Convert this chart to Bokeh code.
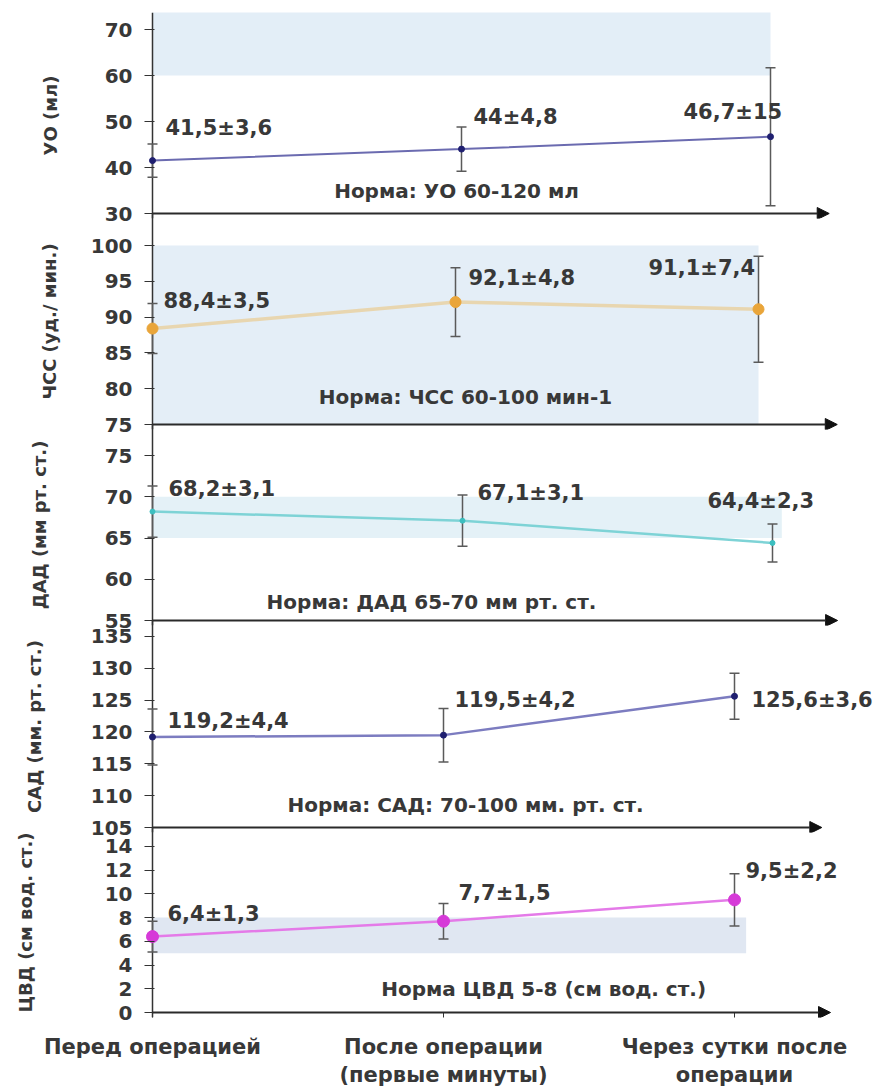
from bokeh.plotting import figure
from bokeh.layouts import column
from bokeh.models import (ColumnDataSource, Whisker, TeeHead, Arrow, NormalHead,
                          Label, FixedTicker, Range1d, Span)
from bokeh.embed import file_html
from bokeh.resources import INLINE

# ---------------- data ----------------
stages = ["Перед операцией", "После операции\n(первые минуты)", "Через сутки после\nоперации"]
stage_x = [0, 1, 2]

uo_mean = [41.5, 44, 46.7]
uo_sd = [3.6, 4.8, 15]
uo_norm = [60, 120]

hr_mean = [88.4, 92.1, 91.1]
hr_sd = [3.5, 4.8, 7.4]
hr_norm = [60, 100]

dad_mean = [68.2, 67.1, 64.4]
dad_sd = [3.1, 3.1, 2.3]
dad_norm = [65, 70]

sad_mean = [119.2, 119.5, 125.6]
sad_sd = [4.4, 4.2, 3.6]
sad_norm = [70, 100]

cvd_mean = [6.4, 7.7, 9.5]
cvd_sd = [1.3, 1.5, 2.2]
cvd_norm = [5, 8]

y_titles = ["УО (мл)", "ЧСС (уд./ мин.)", "ДАД (мм рт. ст.)", "САД (мм. рт. ст.)", "ЦВД (см вод. ст.)"]
norm_texts = ["Норма: УО 60-120 мл", "Норма: ЧСС 60-100 мин-1", "Норма: ДАД 65-70 мм рт. ст.",
              "Норма: САД: 70-100 мм. рт. ст.", "Норма ЦВД 5-8 (см вод. ст.)"]
y_ticks = [[30, 40, 50, 60, 70],
           [75, 80, 85, 90, 95, 100],
           [55, 60, 65, 70, 75],
           [105, 110, 115, 120, 125, 130, 135],
           [0, 2, 4, 6, 8, 10, 12, 14]]
y_base = [30, 75, 55, 105, 0]   # value at which each panel's horizontal axis sits

series = [(uo_mean, uo_sd, uo_norm), (hr_mean, hr_sd, hr_norm), (dad_mean, dad_sd, dad_norm),
          (sad_mean, sad_sd, sad_norm), (cvd_mean, cvd_sd, cvd_norm)]

# ---------------- styles / layout ----------------
FONT = "DejaVu Sans"
TXT = "#383838"
W = 881
LEFT = 144
AX_OFF = 8
OVERLAP = 14          # bottom room for the lowest tick label, overlapped by the next panel
EXT = 5               # frame extends a little below the horizontal axis so the arrow is whole
BOTTOM_LABELS = 80

# frame top pixel, horizontal-axis pixel, pixels per y unit, pixels per x unit
styles = [
    dict(T=12, B=213, ppy=4.6, ppu=309, arrow=2.19, band_r=2.0, band="#e3eef7",
         line="#6b6bb0", lw=2, mk="#1f1f70", ms=6, offs=[(13, 33), (12, 32), (-87, 25)],
         norm=(0.984, 34.8), standoff=41),
    dict(T=213, B=424, ppy=7.16, ppu=303, arrow=2.26, band_r=2.0, band="#e4eef7",
         line="#e8d6b0", lw=3.5, mk="#e9a53a", ms=11, offs=[(11, 28), (13, 24), (-110, 41)],
         norm=(1.033, 78.8), standoff=28),
    dict(T=424, B=620, ppy=8.25, ppu=310, arrow=2.21, band_r=2.03, band="#e4f1f7",
         line="#7ed3d6", lw=2.5, mk="#3cbfc0", ms=5, offs=[(16, 23), (15, 28), (-65, 42)],
         norm=(0.90, 57.2), standoff=52),
    dict(T=620, B=827, ppy=6.37, ppu=291, arrow=2.30, band_r=2.0, band="#e4eef7",
         line="#7c7cc0", lw=2.5, mk="#1f1f70", ms=6, offs=[(15, 16), (11, 35), (17, -4)],
         norm=(1.076, 108.5), standoff=43),
    dict(T=827, B=1012, ppy=11.86, ppu=291, arrow=2.33, band_r=2.04, band="#e0e7f2",
         line="#e47ae8", lw=2.5, mk="#d63ad8", ms=12, offs=[(15, 23), (15, 28), (11, 29)],
         norm=(1.344, 2.0), standoff=66),
]


def fmt(v):
    return f"{v:g}".replace(".", ",")


figs = []
for i, ((mean, sd, norm), st) in enumerate(zip(series, styles)):
    last = i == len(series) - 1
    ppu = st["ppu"]
    xs = -AX_OFF / ppu
    xe = xs + (W - LEFT) / ppu
    base = y_base[i]
    y0 = base - EXT / st["ppy"]
    y1 = base + (st["B"] - st["T"]) / st["ppy"]
    top = st["T"] if i == 0 else 0
    bottom = (BOTTOM_LABELS if last else OVERLAP) - EXT
    height = (st["B"] - st["T"]) + EXT + top + bottom
    p = figure(width=W, height=height, x_range=Range1d(xs, xe), y_range=Range1d(y0, y1),
               output_backend="svg", toolbar_location=None,
               x_axis_location="below" if last else None,
               min_border_left=LEFT, min_border_right=0,
               min_border_top=top, min_border_bottom=bottom,
               margin=(0, 0, 0, 0) if i == 0 else (-OVERLAP, 0, 0, 0))
    p.outline_line_color = None
    p.grid.visible = False
    p.background_fill_color = None
    p.border_fill_color = None

    # normal range band (drawn only above the panel's horizontal axis)
    p.quad(left=[0], right=[st["band_r"]], bottom=[max(norm[0], base)],
           top=[max(norm[1], base)], fill_color=st["band"], line_color=None, level="image")

    # vertical axis line at x = 0
    p.add_layout(Span(location=0, dimension="height", line_color="#333333", line_width=1.5,
                      level="underlay"))

    src = ColumnDataSource(dict(x=stage_x, m=mean,
                                lo=[a - b for a, b in zip(mean, sd)],
                                hi=[a + b for a, b in zip(mean, sd)]))
    p.add_layout(Whisker(source=src, base="x", upper="hi", lower="lo",
                         line_color="#5a5a5a", line_width=1.5, level="underlay",
                         upper_head=TeeHead(size=10, line_color="#5a5a5a", line_width=1.5),
                         lower_head=TeeHead(size=10, line_color="#5a5a5a", line_width=1.5)))
    p.line("x", "m", source=src, line_color=st["line"], line_width=st["lw"])
    p.scatter("x", "m", source=src, size=st["ms"], fill_color=st["mk"], line_color=st["mk"])

    for k in range(len(mean)):
        dx, dy = st["offs"][k]
        p.add_layout(Label(x=stage_x[k], y=mean[k], x_offset=dx, y_offset=dy,
                           text=fmt(mean[k]) + "±" + fmt(sd[k]),
                           text_font=FONT, text_font_size="21px", text_font_style="bold",
                           text_color=TXT, text_align="left", text_baseline="middle"))

    p.add_layout(Label(x=st["norm"][0], y=st["norm"][1], text=norm_texts[i],
                       text_font=FONT, text_font_size="20px", text_font_style="bold",
                       text_color=TXT, text_align="center", text_baseline="middle"))

    # horizontal axis arrow
    p.add_layout(Arrow(x_start=0, y_start=base, x_end=st["arrow"], y_end=base,
                       line_color="#2a2a2a", line_width=2,
                       end=NormalHead(size=12, fill_color="#111111", line_color="#111111")))

    # y axis (ticks and labels; the line itself is the span at x = 0)
    ax = p.yaxis[0]
    ax.ticker = FixedTicker(ticks=y_ticks[i])
    ax.axis_line_color = None
    ax.major_tick_line_color = "#333333"
    ax.major_tick_line_width = 1.2
    ax.major_tick_in = 10
    ax.major_tick_out = 0
    ax.minor_tick_line_color = None
    ax.major_label_standoff = 12
    ax.major_label_text_font = FONT
    ax.major_label_text_font_size = "20px"
    ax.major_label_text_font_style = "bold"
    ax.major_label_text_color = TXT
    ax.axis_label = y_titles[i]
    ax.axis_label_text_font = FONT
    ax.axis_label_text_font_size = "18px"
    ax.axis_label_text_font_style = "bold"
    ax.axis_label_text_color = TXT
    ax.axis_label_standoff = st["standoff"]

    if last:
        xa = p.xaxis[0]
        xa.ticker = FixedTicker(ticks=stage_x)
        xa.major_label_overrides = {k: s for k, s in zip(stage_x, stages)}
        xa.axis_line_color = None
        xa.major_tick_line_color = "#333333"
        xa.major_tick_in = 5
        xa.major_tick_out = 0
        xa.minor_tick_line_color = None
        xa.major_label_standoff = 17
        xa.major_label_text_font = FONT
        xa.major_label_text_font_size = "21px"
        xa.major_label_text_font_style = "bold"
        xa.major_label_text_color = TXT

    figs.append(p)

layout = column(*figs)
open("out.html", "w").write(file_html(layout, INLINE))
